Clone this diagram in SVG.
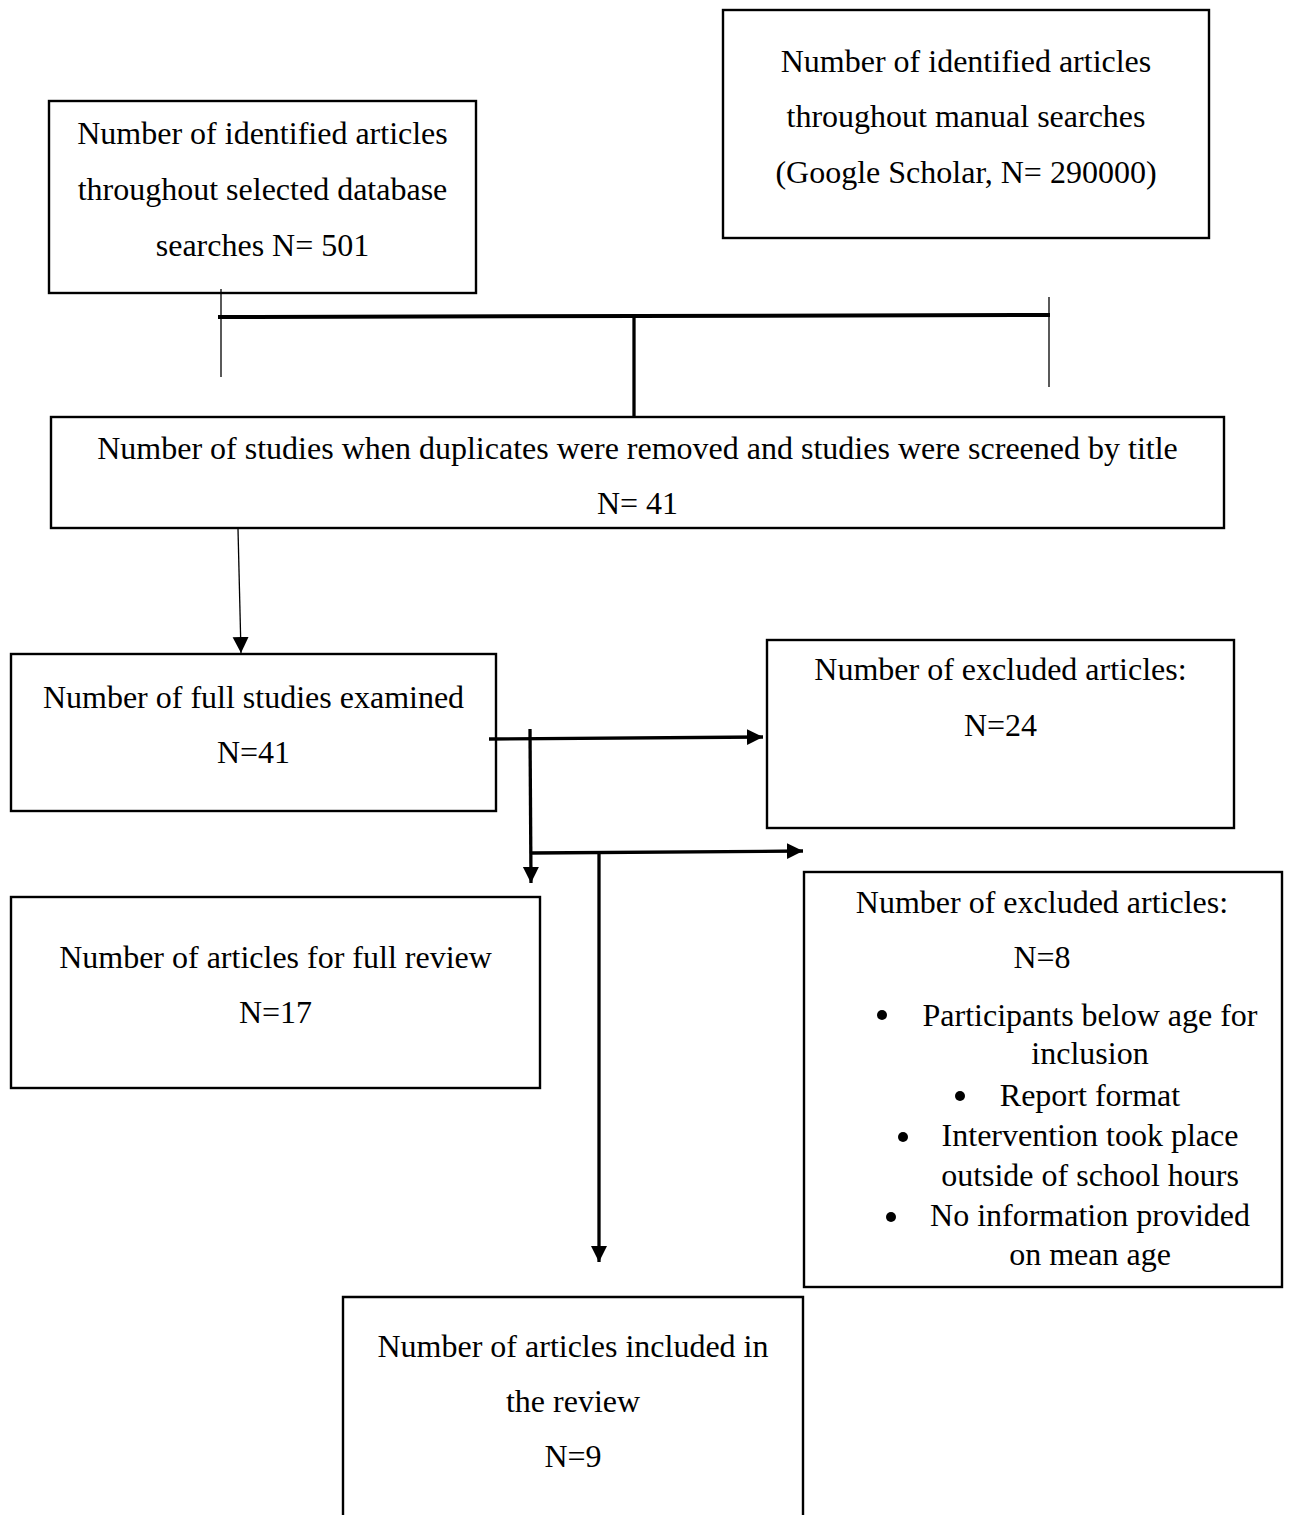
<svg xmlns="http://www.w3.org/2000/svg" width="1291" height="1515" viewBox="0 0 1291 1515">
<style>
.box{fill:#fff;stroke:#000;stroke-width:2.4}
.t{font-family:"Liberation Serif","Times New Roman",serif;font-size:32px;fill:#000;text-anchor:middle}
.thin{stroke:#000;stroke-width:1.3;fill:none}
.thick{stroke:#000;stroke-width:3.3;fill:none}
</style>
<defs>
<marker id="ah" markerUnits="userSpaceOnUse" markerWidth="18" markerHeight="18" refX="16" refY="8" orient="auto">
<path d="M0,0 L16,8 L0,16 Z" fill="#000"/>
</marker>
<marker id="ahs" markerUnits="userSpaceOnUse" markerWidth="18" markerHeight="18" refX="16" refY="8" orient="auto">
<path d="M0,0 L16,8 L0,16 Z" fill="#000"/>
</marker>
</defs>
<rect width="1291" height="1515" fill="#fff"/>

<g id="n1">
<rect class="box" x="49" y="101" width="427" height="192"/>
<text class="t" x="262.5" y="144">Number of identified articles</text>
<text class="t" x="262.5" y="200">throughout selected database</text>
<text class="t" x="262.5" y="256">searches N= 501</text>
</g>

<g id="n2">
<rect class="box" x="723" y="10" width="486" height="228"/>
<text class="t" x="966" y="72">Number of identified articles</text>
<text class="t" x="966" y="127">throughout manual searches</text>
<text class="t" x="966" y="183">(Google Scholar, N= 290000)</text>
</g>

<g id="n3">
<rect class="box" x="51" y="417" width="1173" height="111"/>
<text class="t" x="637.5" y="459">Number of studies when duplicates were removed and studies were screened by title</text>
<text class="t" x="637.5" y="514">N= 41</text>
</g>

<g id="n4">
<rect class="box" x="11" y="654" width="485" height="157"/>
<text class="t" x="253.5" y="708">Number of full studies examined</text>
<text class="t" x="253.5" y="763">N=41</text>
</g>

<g id="n5">
<rect class="box" x="767" y="640" width="467" height="188"/>
<text class="t" x="1000.5" y="680">Number of excluded articles:</text>
<text class="t" x="1000.5" y="736">N=24</text>
</g>

<g id="n6">
<rect class="box" x="11" y="897" width="529" height="191"/>
<text class="t" x="275.5" y="968">Number of articles for full review</text>
<text class="t" x="275.5" y="1023">N=17</text>
</g>

<g id="n7">
<rect class="box" x="804" y="872" width="478" height="415"/>
<text class="t" x="1042" y="913">Number of excluded articles:</text>
<text class="t" x="1042" y="968">N=8</text>
<circle cx="882" cy="1015" r="5"/>
<text class="t" x="1090" y="1026">Participants below age for</text>
<text class="t" x="1090" y="1064">inclusion</text>
<circle cx="960" cy="1096" r="5"/>
<text class="t" x="1090" y="1106">Report format</text>
<circle cx="903" cy="1137" r="5"/>
<text class="t" x="1090" y="1146">Intervention took place</text>
<text class="t" x="1090" y="1186">outside of school hours</text>
<circle cx="891" cy="1217" r="5"/>
<text class="t" x="1090" y="1226">No information provided</text>
<text class="t" x="1090" y="1265">on mean age</text>
</g>

<g id="n8">
<path class="box" d="M343,1520 L343,1297 L803,1297 L803,1520"/>
<text class="t" x="573" y="1357">Number of articles included in</text>
<text class="t" x="573" y="1412">the review</text>
<text class="t" x="573" y="1467">N=9</text>
</g>

<g id="connectors">
<line class="thin" x1="221" y1="289" x2="221" y2="377"/>
<line class="thin" x1="1049" y1="297" x2="1049" y2="387"/>
<line x1="218" y1="317" x2="1050" y2="315" stroke="#000" stroke-width="4"/>
<line class="thick" x1="634" y1="317" x2="634" y2="417"/>
<line class="thin" x1="238" y1="529" x2="241" y2="653" marker-end="url(#ahs)"/>
<line class="thick" x1="489" y1="739" x2="763" y2="737" marker-end="url(#ah)"/>
<line class="thick" x1="530" y1="729" x2="531" y2="883" marker-end="url(#ah)"/>
<line class="thick" x1="531" y1="853" x2="803" y2="851" marker-end="url(#ah)"/>
<line class="thick" x1="599" y1="853" x2="599" y2="1262" marker-end="url(#ah)"/>
</g>
</svg>
